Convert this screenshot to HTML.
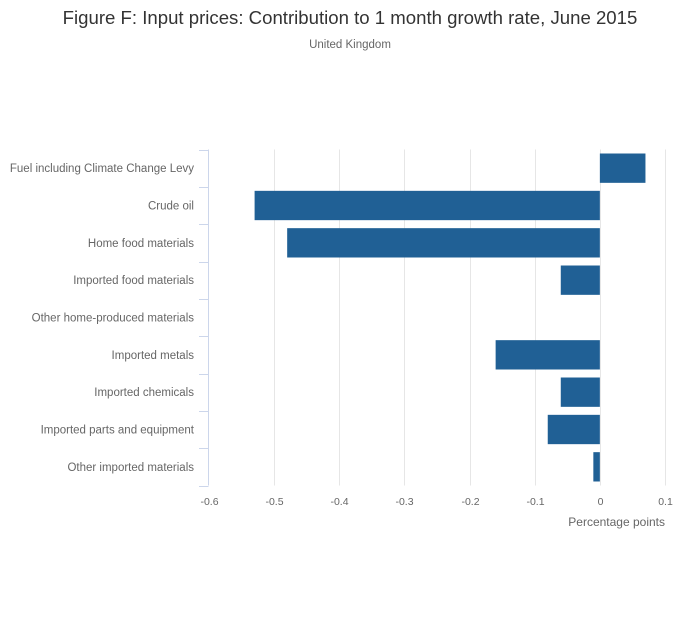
<!DOCTYPE html>
<html><head><meta charset="utf-8"><style>
body{margin:0;background:#fff;font-family:"Liberation Sans",sans-serif;}
svg text{font-family:"Liberation Sans",sans-serif;}
</style></head><body>
<svg id="chart" width="700" height="635">
<text x="350" y="24" text-anchor="middle" font-size="18.6" fill="#333">Figure F: Input prices: Contribution to 1 month growth rate, June 2015</text>
<text x="350" y="48" text-anchor="middle" font-size="11.5" fill="#666">United Kingdom</text>
<g id="grid"></g><g id="bars"></g><g id="axes"></g>
<text x="665" y="526" text-anchor="end" font-size="12" fill="#666">Percentage points</text>
</svg>
<script>
const categories=["Fuel including Climate Change Levy","Crude oil","Home food materials","Imported food materials","Other home-produced materials","Imported metals","Imported chemicals","Imported parts and equipment","Other imported materials"];
const values=[0.07,-0.53,-0.48,-0.06,0,-0.16,-0.06,-0.08,-0.01];
const ticks=[-0.6,-0.5,-0.4,-0.3,-0.2,-0.1,0,0.1];
const tickLabels=["-0.6","-0.5","-0.4","-0.3","-0.2","-0.1","0","0.1"];
const NS="http://www.w3.org/2000/svg";
const xL=209,xR=665,vmin=-0.6,vmax=0.1,yTop=149.5,yBot=485.5;
const xs=v=>xL+(v-vmin)/(vmax-vmin)*(xR-xL);
const rowH=(yBot-yTop)/categories.length;
const ys=i=>yTop+i*rowH;
function mk(t,a,p){const e=document.createElementNS(NS,t);for(const k in a)e.setAttribute(k,a[k]);p.appendChild(e);return e;}
const grid=document.getElementById('grid'),bars=document.getElementById('bars'),axes=document.getElementById('axes');
ticks.forEach((t,i)=>{
 const X=Math.round(xs(t))+0.5;
 if(i>0){const l=mk('line',{x1:X,x2:X,y1:yTop,y2:yBot,stroke:'#e6e6e6'},grid);
 
 }
 const tx=mk('text',{x:X,y:505,'text-anchor':'middle','font-size':10.5,fill:'#666'},axes);
 tx.textContent=tickLabels[i];
 
 
});
const ax=mk('line',{x1:208.5,x2:208.5,y1:yTop,y2:yBot,stroke:'#ccd6eb'},axes);


for(let i=0;i<=categories.length;i++){
 const Y=Math.round(ys(i))+0.5;
 const t=mk('line',{x1:199,x2:208.5,y1:Y,y2:Y,stroke:'#ccd6eb'},axes);
 
 
}
categories.forEach((c,i)=>{
 const cy=ys(i)+rowH/2;
 const tx=mk('text',{x:194,y:cy+4,'text-anchor':'end','font-size':11.5,fill:'#666'},axes);
 tx.textContent=c;
 
 
 const v=values[i];
 const a=xs(Math.min(0,v)),b=xs(Math.max(0,v));
 const r=mk('rect',{x:a,y:ys(i)+4,width:Math.max(0,b-a),height:rowH-8,fill:'#206095'},bars);
 
 
});
</script>
</body></html>
